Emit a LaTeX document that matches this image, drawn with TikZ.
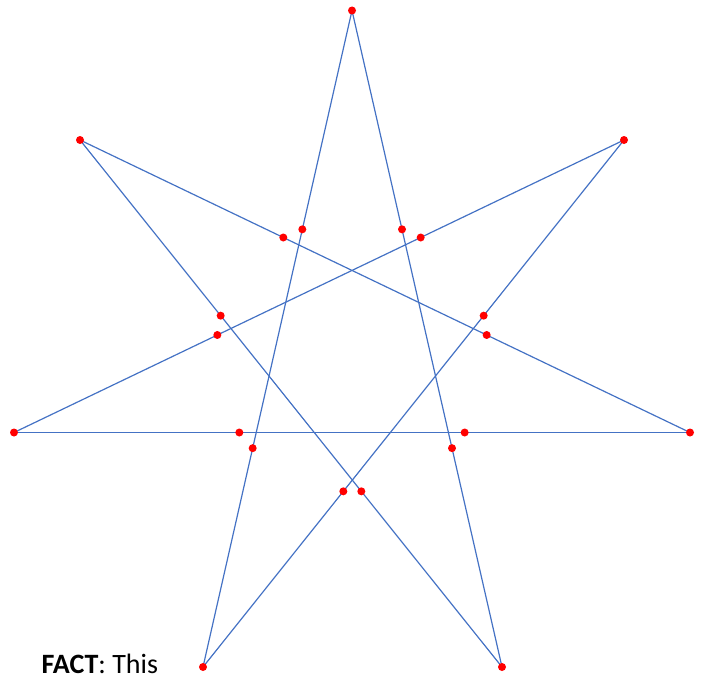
\documentclass[tikz,border=0pt]{standalone}
\usepackage{fontspec}
\setmainfont{Carlito}
\definecolor{starblue}{RGB}{68,114,196}
\definecolor{dotred}{RGB}{255,0,0}

\begin{document}
\begin{tikzpicture}[x=1pt, y=-1pt,
  edge/.style={draw=starblue, line width=1.2pt},
  dot/.style={circle, fill=dotred, inner sep=0pt, minimum size=8pt}
]
  \useasboundingbox (0,0) rectangle (707,677);
  % corners of the star
  \coordinate (top) at (352,10.5);
  \coordinate (ur) at (624,140);
  \coordinate (rt) at (690,432.5);
  \coordinate (br) at (502,667);
  \coordinate (bl) at (203,667);
  \coordinate (lt) at (14,432.5);
  \coordinate (ul) at (80,140);
  % edges, each one trisected
  \foreach \a/\b/\n in {top/bl/a, top/br/b, ul/rt/c, ul/br/d, ur/lt/e, ur/bl/f, lt/rt/g} {
    \draw[edge] (\a) -- (\b) node[dot, pos=1/3] (\n1) {} node[dot, pos=2/3] (\n2) {};
  }
  % corner dots
  \foreach \c in {top, ur, rt, br, bl, lt, ul} {
    \node[dot] (\c dot) at (\c) {};
  }
  \node[anchor=base west, inner sep=0pt, font=\fontsize{28}{32}\selectfont] (fact) at (41.5,673) {\textbf{FACT}: This};
\end{tikzpicture}
\end{document}
